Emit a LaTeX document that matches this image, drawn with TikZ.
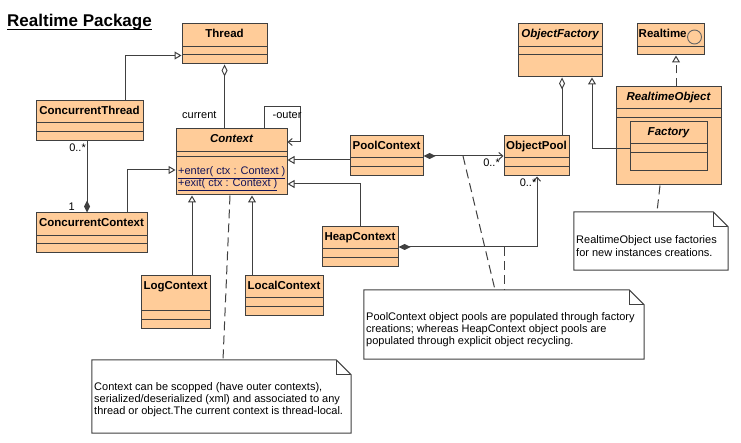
\documentclass[tikz,border=0pt]{standalone}
\usepackage{fontspec}
\setmainfont{Liberation Sans}
\usetikzlibrary{arrows.meta,calc}

\definecolor{classfill}{HTML}{FFCC99}
\definecolor{ink}{HTML}{404040}
\definecolor{opcolor}{HTML}{14145A}

\tikzset{
  classbox/.style={rectangle, draw=ink, fill=classfill, line width=1pt, inner sep=0pt},
  divider/.style={draw=ink, line width=1pt},
  cname/.style={font=\fontsize{11.5}{13}\selectfont\bfseries, inner sep=0pt, anchor=base},
  aname/.style={font=\fontsize{11.5}{13}\selectfont\bfseries\itshape, inner sep=0pt, anchor=base},
  txt/.style={font=\fontsize{11}{13}\selectfont, inner sep=0pt, anchor=base west},
  optxt/.style={txt, text=opcolor},
  link/.style={draw=ink, line width=1pt},
  gen/.style={link, -{Triangle[length=7pt,width=8pt,fill=white]}},
  realize/.style={gen, dash pattern=on 8pt off 5pt},
  aggr/.style={link, {Diamond[length=12pt,width=6pt,fill=white]}-},
  comp/.style={link, {Diamond[length=12pt,width=6pt]}-},
  compnav/.style={link, {Diamond[length=12pt,width=6pt]}-{Straight Barb[length=4pt,width=7pt]}},
  notelink/.style={link, dash pattern=on 9pt off 5pt},
  notebox/.style={rectangle, inner sep=0pt},
}

% class box: id, left, top, right, bottom, first divider, second divider
\newcommand\umlclass[7]{%
  \node[classbox, minimum width={(#4)-(#2)}, minimum height={(#5)-(#3)}]
    (#1) at ({((#2)+(#4))/2},{((#3)+(#5))/2}) {};
  \draw[divider] (#2,#6) -- (#4,#6);
  \draw[divider] (#2,#7) -- (#4,#7);
}

% note with a folded corner: id, left, top, right, bottom
\newcommand\umlnote[5]{%
  \node[notebox, minimum width={(#4)-(#2)}, minimum height={(#5)-(#3)}]
    (#1) at ({((#2)+(#4))/2},{((#3)+(#5))/2}) {};
  \draw[link, fill=white] (#1.north west) -- ($(#1.north east)+(-15,0)$)
    -- ($(#1.north east)+(0,15)$) -- (#1.south east) -- (#1.south west) -- cycle;
  \draw[link] ($(#1.north east)+(-15,0)$) |- ($(#1.north east)+(0,15)$);
}

\begin{document}
\begin{tikzpicture}[x=1pt, y=-1pt]
  \fill[white] (0,0) rectangle (741,443);
  \useasboundingbox (0,0) rectangle (741,443);

  % title
  \node[font=\fontsize{17}{20}\selectfont\bfseries, inner sep=0pt, anchor=base west]
    (title) at (7,27) {Realtime Package};
  \draw[line width=1.4pt] ($(title.base west)+(0,2.6)$) -- ($(title.base east)+(0,2.6)$);

  % classes
  \umlclass{thr}{182}{24}{267}{64}{47}{55}
  \umlclass{cth}{36}{101}{143}{141}{123}{132}
  \umlclass{ctx}{176}{129}{287}{195}{152}{157}
  \umlclass{cctx}{36}{213}{147}{253}{236}{244}
  \umlclass{logc}{141}{276}{210}{329}{311}{320}
  \umlclass{locc}{245}{276}{323}{316}{298}{307}
  \umlclass{poolc}{350}{136}{423}{176}{158}{167}
  \umlclass{heapc}{322}{227}{398}{267}{249}{258}
  \umlclass{opool}{504}{136}{569}{176}{158}{167}
  \umlclass{ofac}{518}{24}{602}{77}{47}{55}
  \umlclass{rt}{637}{24}{704}{55}{47}{47}
  \umlclass{rto}{616}{87}{721}{185}{109}{118}
  \umlclass{fac}{630}{122}{707}{171}{144}{153}

  % class names
  \node[cname] (thr-name)   at ($(thr.north)+(0,14)$)   {Thread};
  \node[cname] (cth-name)   at ($(cth.north)+(0,14)$)   {ConcurrentThread};
  \node[aname] (ctx-name)   at ($(ctx.north)+(0,14)$)   {Context};
  \node[cname] (cctx-name)  at ($(cctx.north)+(0,14)$)  {ConcurrentContext};
  \node[cname] (logc-name)  at ($(logc.north)+(0,14)$)  {LogContext};
  \node[cname] (locc-name)  at ($(locc.north)+(0,14)$)  {LocalContext};
  \node[cname] (poolc-name) at ($(poolc.north)+(0,14)$) {PoolContext};
  \node[cname] (heapc-name) at ($(heapc.north)+(0,14)$) {HeapContext};
  \node[cname] (opool-name) at ($(opool.north)+(0,14)$) {ObjectPool};
  \node[aname] (ofac-name)  at ($(ofac.north)+(0,14)$)  {ObjectFactory};
  \node[aname] (rto-name)   at ($(rto.north)+(0,14)$)   {RealtimeObject};
  \node[aname] (fac-name)   at ($(fac.north)+(0,14)$)   {Factory};
  \node[cname, anchor=base west] (rt-name) at ($(rt.north west)+(2,14)$) {Realtime};
  \node[circle, draw=ink!80, line width=0.9pt, minimum size=14pt, inner sep=0pt]
    (rt-icon) at (694.5,37) {};

  % Context operations
  \node[optxt] (ctx-op1) at (178,174.3) {\underline{+enter( ctx : Context )}};
  \node[optxt] (ctx-op2) at (178,186.3) {\underline{+exit( ctx : Context )}};

  % relations
  \draw[gen] (cth.north -| 125,0) |- (thr.west |- 0,55.5);
  \draw[aggr] (thr.south) -- (thr.south |- ctx.north);
  \node[txt] (lbl-current) at (182,119) {current};
  \coordinate (outer-bend) at (300,107);
  \draw[comp, -{Straight Barb[length=4pt,width=7pt]}]
    (ctx.north -| 264,0) |- (outer-bend) |- (ctx.east |- 0,142);
  \node[txt] (lbl-outer) at (272.5,119) {-outer};

  \draw[comp] (cctx.north -| 87,0) -- (cth.south -| 87,0);
  \node[txt, anchor=base east] (lbl-cth-mult) at (86,151.7) {0..*};
  \node[txt, anchor=base east] (lbl-cctx-mult) at (75,210.7) {1};

  \draw[gen] (cctx.north -| 127,0) |- (ctx.west |- 0,170);
  \draw[gen] (poolc.west |- 0,160) -- (ctx.east |- 0,160);
  \draw[gen] (heapc.north -| 360,0) |- (ctx.east |- 0,184);
  \draw[gen] (logc.north -| 192,0) -- (ctx.south -| 192,0);
  \draw[gen] (locc.north -| 252,0) -- (ctx.south -| 252,0);

  \draw[compnav] (poolc.east |- 0,156) -- (opool.west |- 0,156);
  \node[txt, anchor=base east] (lbl-pool-mult) at (500,166.7) {0..*};
  \draw[compnav] (heapc.east |- 0,247) -| (opool.south -| 537,0);
  \node[txt, anchor=base east] (lbl-heap-mult) at (536.5,186.7) {0..*};

  \draw[aggr] (ofac.south -| 562,0) -- (opool.north -| 562,0);
  \draw[gen] (fac.west |- 0,149) -| (ofac.south -| 592,0);
  \draw[realize] (rto.north -| 676,0) -- (rt.south -| 676,0);

  % notes
  \umlnote{n1}{574}{212}{728}{270}
  \node[txt] (n1-l1) at (576,244) {RealtimeObject use factories};
  \node[txt] (n1-l2) at (576,256.3) {for new instances creations.};

  \umlnote{n2}{364}{290}{644}{359}
  \node[txt] (n2-l1) at (366,320) {PoolContext object pools are populated through factory};
  \node[txt] (n2-l2) at (366,332.2) {creations; whereas HeapContext object pools are};
  \node[txt] (n2-l3) at (366,344.4) {populated through explicit object recycling.};

  \umlnote{n3}{92}{360}{351}{433}
  \node[txt] (n3-l1) at (94,390) {Context can be scopped (have outer contexts),};
  \node[txt] (n3-l2) at (94,402.4) {serialized/deserialized (xml) and associated to any};
  \node[txt] (n3-l3) at (94,414.8) {thread or object.The current context is thread-local.};

  % note anchors
  \coordinate (pool-link) at (463,156);
  \coordinate (heap-link) at (504,247);
  \draw[notelink] (rto.south -| 660,0) -- (n1.north -| 657,0);
  \draw[notelink] (pool-link) -- (n2.north -| 495,0);
  \draw[notelink] (heap-link) -- (n2.north -| 504,0);
  \draw[notelink] (ctx.south -| 230,0) -- (n3.north -| 223,0);
\end{tikzpicture}
\end{document}
